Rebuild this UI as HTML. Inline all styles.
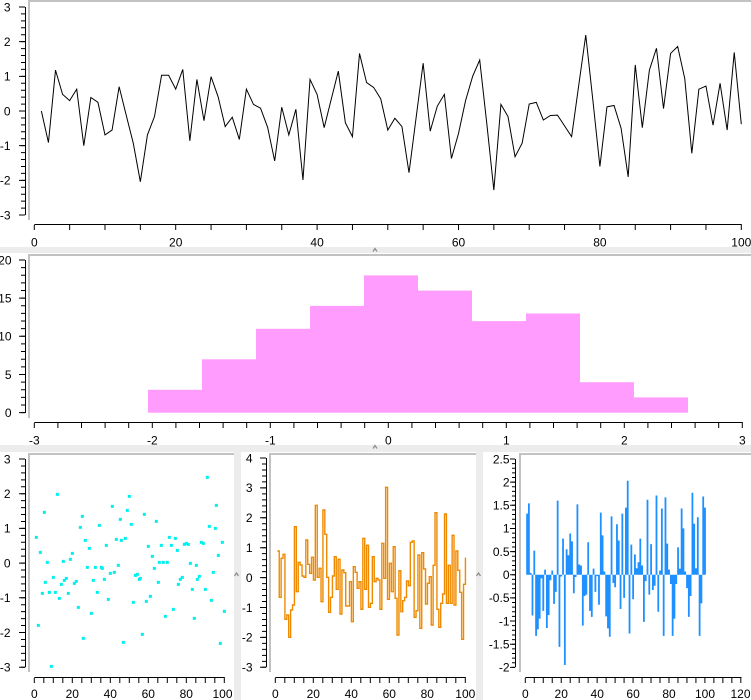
<!DOCTYPE html>
<html><head><meta charset="utf-8"><style>
html,body{margin:0;padding:0;background:#ececec;}
svg{display:block;}
text{font-family:"Liberation Sans",Arial,sans-serif;font-size:12px;fill:#000;}
</style></head><body>
<svg width="751" height="700" viewBox="0 0 751 700" xmlns="http://www.w3.org/2000/svg">
<rect x="0" y="0" width="751" height="700" fill="#ececec"/>
<!-- panels -->
<rect x="0" y="0" width="751" height="247" fill="#fff"/>
<rect x="0" y="253" width="751" height="192" fill="#fff"/>
<rect x="0" y="452" width="234" height="248" fill="#fff"/>
<rect x="241" y="452" width="235" height="248" fill="#fff"/>
<rect x="483" y="452" width="268" height="248" fill="#fff"/>
<!-- plot borders -->
<g fill="#c2c2c2">
<rect x="28" y="0" width="723" height="2"/><rect x="28" y="0" width="2" height="220"/>
<rect x="28" y="254" width="723" height="2"/><rect x="28" y="254" width="2" height="164"/>
<rect x="28" y="453" width="206" height="2"/><rect x="28" y="453" width="2" height="219"/>
<rect x="269" y="453" width="207" height="2"/><rect x="269" y="453" width="2" height="219"/>
<rect x="519" y="453" width="232" height="2"/><rect x="519" y="453" width="2" height="219"/>
</g>
<!-- splitter grips -->
<g stroke="#8a8a8a" stroke-width="1.2" fill="none">
<path d="M373 251.5l2-3l2 3"/><path d="M373 448.5l2-3l2 3"/>
<path d="M234.5 576l2-3l2 3"/><path d="M476.5 576l2-3l2 3"/>
</g>

<!-- ===== TOP LINE CHART ===== -->
<g stroke="#000" fill="none">
<line x1="25.5" y1="7" x2="25.5" y2="215" stroke-width="1"/>
<line x1="22" y1="6.5" x2="22" y2="216" stroke-width="6" stroke-dasharray="1 33.67"/>
<line x1="23" y1="6.5" x2="23" y2="216" stroke-width="4" stroke-dasharray="1 5.934"/>
<line x1="34.3" y1="224.5" x2="741.8" y2="224.5" stroke-width="1"/>
<line x1="33.8" y1="227.5" x2="742.5" y2="227.5" stroke-width="5" stroke-dasharray="1 34.35"/>
</g>
<g text-anchor="end">
<text x="10.5" y="11.3">3</text><text x="10.5" y="46">2</text><text x="10.5" y="80.6">1</text><text x="10.5" y="115.3">0</text><text x="10.5" y="150">-1</text><text x="10.5" y="184.6">-2</text><text x="10.5" y="219.3">-3</text>
</g>
<g text-anchor="middle">
<text x="34.3" y="246.5">0</text><text x="175.7" y="246.5">20</text><text x="317.1" y="246.5">40</text><text x="458.5" y="246.5">60</text><text x="599.9" y="246.5">80</text><text x="741.3" y="246.5">100</text>
</g>
<g transform="translate(34.3,111) scale(7.07,-34.67)">
<polyline fill="none" stroke="#000" stroke-width="1" vector-effect="non-scaling-stroke" stroke-linejoin="miter" points="1,0 2,-0.91 3,1.18 4,0.48 5,0.30 6,0.63 7,-1.0 8,0.39 9,0.25 10,-0.69 11,-0.55 12,0.70 13,-0.12 14,-0.93 15,-2.04 16,-0.69 17,-0.16 18,1.03 19,1.03 20,0.63 21,1.2 22,-0.86 23,0.91 24,-0.28 25,0.99 26,0.41 27,-0.45 28,-0.18 29,-0.82 30,0.63 31,0.19 32,0.08 33,-0.47 34,-1.44 35,0.11 36,-0.69 37,0.05 38,-1.99 39,0.91 40,0.48 41,-0.48 42,0.34 43,1.15 44,-0.34 45,-0.74 46,1.66 47,0.82 48,0.68 49,0.35 50,-0.55 51,-0.21 52,-0.45 53,-1.78 54,-0.2 55,1.38 56,-0.58 57,0.14 58,0.48 59,-1.37 60,-0.65 61,0.3 62,1.0 63,1.47 64,-0.36 65,-2.28 66,0.19 67,-0.16 68,-1.32 69,-0.93 70,0.2 71,0.25 72,-0.26 73,-0.13 74,-0.12 75,-0.43 76,-0.74 77,0.73 78,2.19 79,0.32 80,-1.6 81,0.12 82,0.16 83,-0.5 84,-1.9 85,1.33 86,-0.48 87,1.18 88,1.81 89,0.07 90,1.66 91,1.86 92,0.94 93,-1.22 94,0.63 95,0.72 96,-0.41 97,0.8 98,-0.55 99,1.69 100,-0.38"/>
</g>

<!-- ===== HISTOGRAM ===== -->
<g fill="#ff9cfd">
<rect x="148" y="389.8" width="54" height="22.9"/>
<rect x="202" y="359.3" width="54" height="53.4"/>
<rect x="256" y="328.8" width="54" height="83.9"/>
<rect x="310" y="305.9" width="54" height="106.8"/>
<rect x="364" y="275.4" width="54" height="137.3"/>
<rect x="418" y="290.6" width="54" height="122.1"/>
<rect x="472" y="321.1" width="54" height="91.6"/>
<rect x="526" y="313.5" width="54" height="99.2"/>
<rect x="580" y="382.2" width="54" height="30.5"/>
<rect x="634" y="397.4" width="54" height="15.3"/>
</g>
<g stroke="#000" fill="none">
<line x1="25.5" y1="260" x2="25.5" y2="413" stroke-width="1"/>
<line x1="22" y1="259.5" x2="22" y2="414" stroke-width="6" stroke-dasharray="1 37.15"/>
<line x1="23" y1="259.5" x2="23" y2="414" stroke-width="4" stroke-dasharray="1 6.63"/>
<line x1="34.3" y1="422.5" x2="742.8" y2="422.5" stroke-width="1"/>
<line x1="33.8" y1="425.5" x2="743.5" y2="425.5" stroke-width="5" stroke-dasharray="1 22.6"/>
</g>
<g text-anchor="end">
<text x="11.5" y="264.3">20</text><text x="11.5" y="302.5">15</text><text x="11.5" y="340.6">10</text><text x="11.5" y="378.8">5</text><text x="11.5" y="416.9">0</text>
</g>
<g text-anchor="middle">
<text x="34.3" y="444.5">-3</text><text x="152.3" y="444.5">-2</text><text x="270.3" y="444.5">-1</text><text x="388.3" y="444.5">0</text><text x="506.3" y="444.5">1</text><text x="624.3" y="444.5">2</text><text x="742.3" y="444.5">3</text>
</g>

<!-- ===== SCATTER ===== -->
<g stroke="#000" fill="none">
<line x1="25.5" y1="459" x2="25.5" y2="667.3" stroke-width="1"/>
<line x1="22" y1="458.5" x2="22" y2="668" stroke-width="6" stroke-dasharray="1 33.7"/>
<line x1="23" y1="458.5" x2="23" y2="668" stroke-width="4" stroke-dasharray="1 5.94"/>
<line x1="34.3" y1="677.5" x2="224.8" y2="677.5" stroke-width="1"/>
<line x1="33.8" y1="680.5" x2="225.3" y2="680.5" stroke-width="5" stroke-dasharray="1 8.5"/>
</g>
<g text-anchor="end">
<text x="10.5" y="463.3">3</text><text x="10.5" y="498">2</text><text x="10.5" y="532.7">1</text><text x="10.5" y="567.4">0</text><text x="10.5" y="602.1">-1</text><text x="10.5" y="636.8">-2</text><text x="10.5" y="671.5">-3</text>
</g>
<g text-anchor="middle">
<text x="34.3" y="698">0</text><text x="72.3" y="698">20</text><text x="110.3" y="698">40</text><text x="148.3" y="698">60</text><text x="186.3" y="698">80</text><text x="222.5" y="698">100</text>
</g>
<g transform="translate(-1.5,438.5) scale(0.33333)">
<path fill="#00f0f0" d="M109 292h9v9h-9zM115 556h9v9h-9zM121 337h9v9h-9zM127 460h9v9h-9zM133 217h9v9h-9zM136 427h9v9h-9zM142 367h9v9h-9zM148 457h9v9h-9zM154 679h9v9h-9zM160 412h9v9h-9zM166 457h9v9h-9zM172 163h9v9h-9zM178 475h9v9h-9zM184 433h9v9h-9zM190 364h9v9h-9zM193 421h9v9h-9zM199 415h9v9h-9zM205 460h9v9h-9zM211 358h9v9h-9zM217 340h9v9h-9zM223 430h9v9h-9zM229 424h9v9h-9zM235 502h9v9h-9zM241 262h9v9h-9zM247 229h9v9h-9zM250 595h9v9h-9zM256 301h9v9h-9zM262 382h9v9h-9zM268 325h9v9h-9zM274 520h9v9h-9zM280 421h9v9h-9zM286 382h9v9h-9zM292 457h9v9h-9zM298 256h9v9h-9zM304 382h9v9h-9zM307 385h9v9h-9zM313 418h9v9h-9zM319 316h9v9h-9zM325 478h9v9h-9zM331 400h9v9h-9zM337 199h9v9h-9zM343 397h9v9h-9zM349 298h9v9h-9zM355 376h9v9h-9zM361 238h9v9h-9zM364 301h9v9h-9zM370 607h9v9h-9zM376 295h9v9h-9zM382 211h9v9h-9zM388 169h9v9h-9zM394 253h9v9h-9zM400 487h9v9h-9zM406 406h9v9h-9zM412 403h9v9h-9zM418 418h9v9h-9zM421 415h9v9h-9zM427 583h9v9h-9zM433 223h9v9h-9zM439 484h9v9h-9zM445 319h9v9h-9zM451 469h9v9h-9zM457 349h9v9h-9zM463 385h9v9h-9zM469 244h9v9h-9zM475 427h9v9h-9zM478 367h9v9h-9zM484 316h9v9h-9zM490 367h9v9h-9zM496 529h9v9h-9zM502 367h9v9h-9zM508 292h9v9h-9zM514 316h9v9h-9zM520 508h9v9h-9zM526 295h9v9h-9zM532 331h9v9h-9zM535 433h9v9h-9zM541 418h9v9h-9zM547 412h9v9h-9zM553 313h9v9h-9zM559 310h9v9h-9zM565 313h9v9h-9zM571 370h9v9h-9zM577 448h9v9h-9zM583 535h9v9h-9zM589 376h9v9h-9zM592 418h9v9h-9zM598 409h9v9h-9zM604 307h9v9h-9zM610 310h9v9h-9zM616 448h9v9h-9zM622 112h9v9h-9zM628 259h9v9h-9zM634 481h9v9h-9zM640 397h9v9h-9zM646 265h9v9h-9zM649 196h9v9h-9zM655 346h9v9h-9zM661 610h9v9h-9zM667 307h9v9h-9zM673 514h9v9h-9z"/>
</g>

<!-- ===== STEP CHART ===== -->
<g stroke="#000" fill="none">
<line x1="266.5" y1="458" x2="266.5" y2="667.3" stroke-width="1"/>
<line x1="263" y1="457.5" x2="263" y2="668" stroke-width="6" stroke-dasharray="1 28.9"/>
<line x1="264" y1="457.5" x2="264" y2="668" stroke-width="4" stroke-dasharray="1 4.98"/>
<line x1="275.3" y1="677.5" x2="465.8" y2="677.5" stroke-width="1"/>
<line x1="274.8" y1="680.5" x2="466.3" y2="680.5" stroke-width="5" stroke-dasharray="1 8.5"/>
</g>
<g text-anchor="end">
<text x="252.5" y="462.3">4</text><text x="252.5" y="492.2">3</text><text x="252.5" y="522.1">2</text><text x="252.5" y="552">1</text><text x="252.5" y="581.9">0</text><text x="252.5" y="611.8">-1</text><text x="252.5" y="641.7">-2</text><text x="252.5" y="671.6">-3</text>
</g>
<g text-anchor="middle">
<text x="275.3" y="698">0</text><text x="313.3" y="698">20</text><text x="351.3" y="698">40</text><text x="389.3" y="698">60</text><text x="427.3" y="698">80</text><text x="465.3" y="698">100</text>
</g>
<g transform="translate(277.33,440) scale(1.9,0.33333)">
<path fill="none" stroke="#ef8a00" stroke-width="1.4" vector-effect="non-scaling-stroke" d="M0 333H1V472H2V355H3V343H4V538H5V525H6V592H7V510H8V495H9V260H10V455H11V367H12V375H13V408H14V412H15V300H16V373H17V400H18V352H19V420H20V196H21V412H22V385H23V485H24V210H25V283H26V412H27V517H28V472H29V408H30V350H31V448H32V358H33V522H34V390H35V398H36V498H37V498H38V425H39V545H40V380H41V397H42V445H43V425H44V508H45V295H46V448H47V316H48V502H49V490H50V350H51V425H52V415H53V420H54V508H55V310H56V415H57V142H58V478H59V370H60V455H61V320H62V475H63V585H64V392H65V515H66V482H67V472H68V423H69V437H70V307H71V303H72V532H73V512H74V345H75V565H76V338H77V387H78V492H79V430H80V410H81V555H82V376H83V218H84V508H85V562H86V490H87V462H88V222H89V490H90V376H91V490H92V286H93V495H94V333H95V391H96V457H97V598H98V433H99V353"/>
</g>

<!-- ===== BAR CHART ===== -->
<g stroke="#000" fill="none">
<line x1="515.5" y1="459" x2="515.5" y2="667.3" stroke-width="1"/>
<line x1="512.5" y1="458.5" x2="512.5" y2="668" stroke-width="5" stroke-dasharray="1 22.15"/>
<line x1="513.5" y1="458.5" x2="513.5" y2="668" stroke-width="3" stroke-dasharray="1 3.63"/>
<line x1="525.3" y1="677.5" x2="741.5" y2="677.5" stroke-width="1"/>
<line x1="524.8" y1="680.5" x2="742" y2="680.5" stroke-width="5" stroke-dasharray="1 7.98"/>
</g>
<g text-anchor="end">
<text x="509.5" y="463.3">2.5</text><text x="509.5" y="486.4">2</text><text x="509.5" y="509.6">1.5</text><text x="509.5" y="532.7">1</text><text x="509.5" y="555.9">0.5</text><text x="509.5" y="579">0</text><text x="509.5" y="602.2">-0.5</text><text x="509.5" y="625.3">-1</text><text x="509.5" y="648.5">-1.5</text><text x="509.5" y="671.6">-2</text>
</g>
<g text-anchor="middle">
<text x="525.3" y="698">0</text><text x="561.2" y="698">20</text><text x="597.2" y="698">40</text><text x="633.1" y="698">60</text><text x="669" y="698">80</text><text x="705" y="698">100</text><text x="740.5" y="698">120</text>
</g>
<g transform="translate(525.3,574.7) scale(1.797,-46.3)">
<path fill="#1e90ff" d="M0.5 0V1.32H1.5V1.54H2.5V0.04H3.5V-0.88H4.5V0.52H5.5V-1.32H6.5V-1.18H7.5V-0.95H8.5V-0.08H9.5V-0.78H10.5V0.11H11.5V-1.15H12.5V-0.87H13.5V-0.12H14.5V0.09H15.5V-0.63H16.5V-0.37H17.5V1.6H18.5V-1.56H19.5V-0.04H20.5V0.78H21.5V-1.95H22.5V0.55H23.5V0.42H24.5V0.89H25.5V0.72H26.5V-0.4H27.5V-0.05H28.5V1.52H29.5V0.22H30.5V0.2H31.5V-1.1H32.5V-0.46H33.5V-0.43H34.5V0.7H35.5V-0.78H36.5V-0.91H37.5V0.13H38.5V-0.37H39.5V-0.03H40.5V-0.65H41.5V1.34H42.5V0.85H43.5V0.07H44.5V-0.9H45.5V-1.16H46.5V-1.34H47.5V1.26H48.5V-0.18H49.5V-0.27H50.5V1.09H51.5V0.74H52.5V-0.74H53.5V1.32H54.5V-0.5H55.5V1.45H56.5V2.03H57.5V-1.27H58.5V0.65H59.5V-0.53H60.5V0.44H61.5V0.14H62.5V0.27H63.5V0.78H64.5V0.2H65.5V-1.02H66.5V-0.14H67.5V1.62H68.5V-0.43H69.5V0.66H70.5V-0.33H71.5V-0.24H72.5V1.71H73.5V-0.8H74.5V0.09H75.5V1.43H76.5V-1.32H77.5V1.67H78.5V0.67H79.5V0.11H80.5V-0.2H81.5V-1.32H82.5V-0.95H83.5V-0.2H84.5V0.59H85.5V0.13H86.5V1.43H87.5V1.0H88.5V0.07H89.5V-0.29H90.5V-0.91H91.5V-0.46H92.5V1.77H93.5V1.1H94.5V0.14H95.5V1.24H96.5V-1.32H97.5V-0.62H98.5V1.69H99.5V1.45H100.5V0Z"/>
</g>
</svg>
</body></html>
